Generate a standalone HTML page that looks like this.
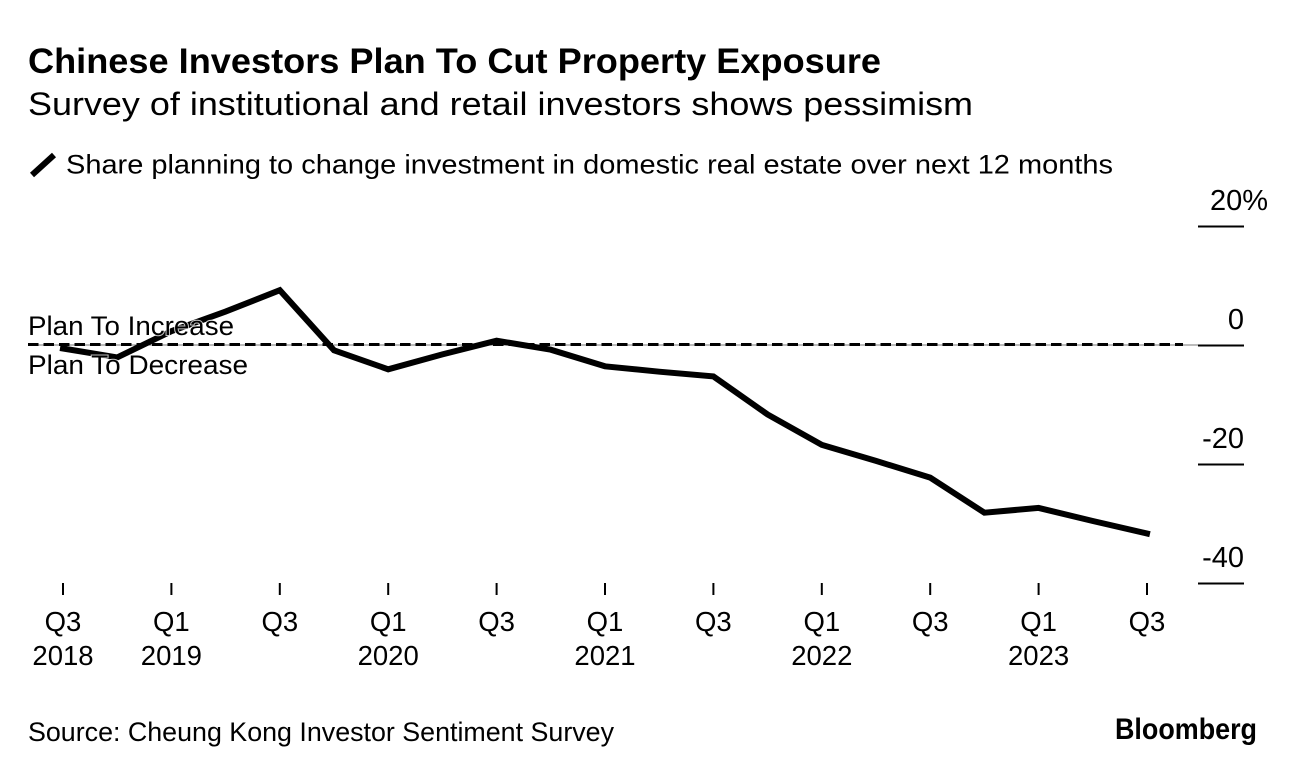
<!DOCTYPE html>
<html lang="en">
<head>
<meta charset="utf-8">
<title>Chinese Investors Plan To Cut Property Exposure</title>
<style>
  html, body { margin: 0; padding: 0; background: #fff; }
  svg { display: block; }
  text { font-family: "Liberation Sans", sans-serif; fill: #000; }
</style>
</head>
<body>
<svg id="chart" xmlns="http://www.w3.org/2000/svg" width="1296" height="774" viewBox="0 0 1296 774">
  <rect width="1296" height="774" fill="#fff"/>
  <text x="28" y="73" font-size="35.5" font-weight="700" textLength="853" lengthAdjust="spacingAndGlyphs">Chinese Investors Plan To Cut Property Exposure</text>
  <text x="28" y="115" font-size="32" textLength="945" lengthAdjust="spacingAndGlyphs">Survey of institutional and retail investors shows pessimism</text>
  <line x1="32" y1="175" x2="54" y2="155" stroke="#000" stroke-width="6"/>
  <text x="66" y="173.5" font-size="27" textLength="1047" lengthAdjust="spacingAndGlyphs">Share planning to change investment in domestic real estate over next 12 months</text>
  <g id="y-axis"></g>
  <g id="x-axis"></g>
  <line x1="28" y1="345" x2="1198" y2="345" stroke="#777" stroke-width="1"/>
  <line x1="28" y1="344.5" x2="1183" y2="344.5" stroke="#000" stroke-width="3" stroke-dasharray="10.5 5"/>
  <path id="series-line" fill="none" stroke="#000" stroke-width="6" stroke-linejoin="miter" stroke-linecap="square"/>
  <text x="28" y="335" font-size="27" textLength="206" lengthAdjust="spacingAndGlyphs" stroke="#fff" stroke-opacity="0.75" stroke-width="2" paint-order="stroke">Plan To Increase</text>
  <text x="28" y="374" font-size="27" textLength="220" lengthAdjust="spacingAndGlyphs" stroke="#fff" stroke-opacity="0.75" stroke-width="2" paint-order="stroke">Plan To Decrease</text>
  <text x="28" y="741" font-size="27" textLength="586" lengthAdjust="spacingAndGlyphs">Source: Cheung Kong Investor Sentiment Survey</text>
  <text x="1115" y="739" font-size="30" font-weight="700" textLength="142" lengthAdjust="spacingAndGlyphs">Bloomberg</text>
</svg>
<script>
// Chart data
const quarterIndex = [0, 1, 2, 3, 4, 5, 6, 7, 8, 9, 10, 11, 12, 13, 14, 15, 16, 17, 18, 19, 20];
const seriesValues = [-0.5, -2, 2.4, 5.7, 9.3, -0.8, -4, -1.5, 0.8, -0.7, -3.5, -4.4, -5.2, -11.6, -16.7, -19.4, -22.2, -28.1, -27.3, -29.5, -31.6];
const yTicks = [20, 0, -20, -40];
const yTickLabels = ["20%", "0", "-20", "-40"];
const xTickQuarters = [0, 2, 4, 6, 8, 10, 12, 14, 16, 18, 20];
const xTickTop = ["Q3", "Q1", "Q3", "Q1", "Q3", "Q1", "Q3", "Q1", "Q3", "Q1", "Q3"];
const xTickBottom = ["2018", "2019", "", "2020", "", "2021", "", "2022", "", "2023", ""];

// Axis functions
const xScale = q => 63 + q * 54.2;
const yScale = v => 345.5 - v * 5.95;

const NS = "http://www.w3.org/2000/svg";

const yAxis = document.getElementById("y-axis");
yTicks.forEach((v, i) => {
  const y = yScale(v);
  const tick = document.createElementNS(NS, "line");
  tick.setAttribute("x1", 1198);
  tick.setAttribute("x2", 1244);
  tick.setAttribute("y1", y);
  tick.setAttribute("y2", y);
  tick.setAttribute("stroke", "#000");
  tick.setAttribute("stroke-width", 2);
  
  
  yAxis.appendChild(tick);
  const label = document.createElementNS(NS, "text");
  const isTop = yTickLabels[i].includes("%");
  label.setAttribute("x", isTop ? 1268 : 1244);
  label.setAttribute("y", y - 16.5);
  label.setAttribute("text-anchor", "end");
  label.setAttribute("font-size", 29);
  label.textContent = yTickLabels[i];
  
  
  yAxis.appendChild(label);
});

const xAxis = document.getElementById("x-axis");
xTickQuarters.forEach((q, i) => {
  const x = xScale(q);
  const tick = document.createElementNS(NS, "line");
  tick.setAttribute("x1", x);
  tick.setAttribute("x2", x);
  tick.setAttribute("y1", 583);
  tick.setAttribute("y2", 595);
  tick.setAttribute("stroke", "#000");
  tick.setAttribute("stroke-width", 2);
  
  
  xAxis.appendChild(tick);
  const top = document.createElementNS(NS, "text");
  top.setAttribute("x", x);
  top.setAttribute("y", 631);
  top.setAttribute("text-anchor", "middle");
  top.setAttribute("font-size", 27.5);
  top.textContent = xTickTop[i];
  
  
  xAxis.appendChild(top);
  if (xTickBottom[i]) {
    const bottom = document.createElementNS(NS, "text");
    bottom.setAttribute("x", x);
    bottom.setAttribute("y", 665);
    bottom.setAttribute("text-anchor", "middle");
    bottom.setAttribute("font-size", 27.5);
    bottom.textContent = xTickBottom[i];
    
    
    xAxis.appendChild(bottom);
  }
});

const d = seriesValues.map((v, i) => (i ? "L" : "M") + xScale(quarterIndex[i]).toFixed(1) + " " + yScale(v).toFixed(1)).join(" ");
document.getElementById("series-line").setAttribute("d", d);
</script>
</body>
</html>
